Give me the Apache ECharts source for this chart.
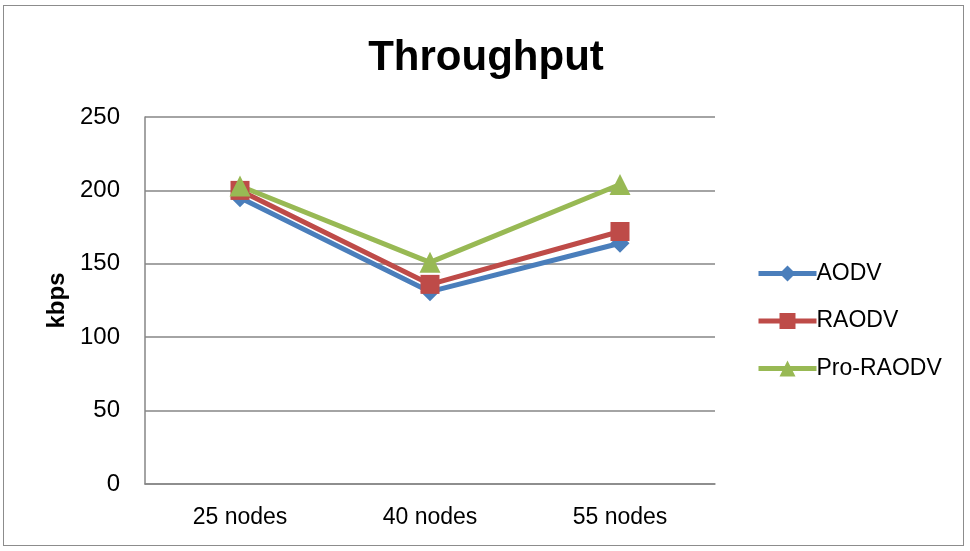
<!DOCTYPE html>
<html>
<head>
<meta charset="utf-8">
<script src="https://cdn.jsdelivr.net/npm/echarts@6/dist/echarts.min.js"></script>
<style>
html,body{margin:0;padding:0;background:#fff;}
#frame{position:absolute;left:3px;top:5px;width:961px;height:541px;border:1px solid #8c8c8c;box-sizing:border-box;}
#c{position:absolute;left:0;top:0;width:970px;height:551px;}
</style>
</head>
<body>
<div id="frame"></div>
<div id="c"></div>
<script>
var categories = ['25 nodes', '40 nodes', '55 nodes'];
var aodv = [195, 131, 164];
var raodv = [200, 136, 172];
var proRaodv = [203, 151, 204];
var yTicks = [0, 50, 100, 150, 200, 250];

var chart = echarts.init(document.getElementById('c'));
var font = 'Liberation Sans, Arial, sans-serif';
function ser(name, data, color, symbol, size) {
  return {
    name: name, type: 'line', data: data, symbol: symbol, symbolSize: size,
    lineStyle: {width: 5, color: color}, itemStyle: {color: color},
    emphasis: {disabled: true}, animation: false
  };
}
chart.setOption({
  animation: false,
  title: {
    text: 'Throughput', left: 481, top: 32, textAlign: 'center',
    textStyle: {fontFamily: font, fontSize: 42, fontWeight: 'bold', color: '#000'}
  },
  grid: {left: 145, right: 255, top: 117, bottom: 67},
  legend: {
    orient: 'vertical', left: 751, top: 257, itemGap: 24.5,
    itemWidth: 58, itemHeight: 20,
    lineStyle: {width: 5},
    textStyle: {fontFamily: font, fontSize: 23, color: '#000', padding: [0,0,0,-5]},
    data: ['AODV', 'RAODV', 'Pro-RAODV']
  },
  xAxis: {
    type: 'category', data: categories, boundaryGap: true,
    axisLine: {lineStyle: {color: '#868686', width: 1.5}},
    axisTick: {show: false},
    axisLabel: {fontFamily: font, fontSize: 23, color: '#000', margin: 22}
  },
  yAxis: {
    type: 'value', min: yTicks[0], max: yTicks[yTicks.length-1], interval: 50,
    name: 'kbps', nameLocation: 'middle', nameGap: 74, nameRotate: 90,
    nameTextStyle: {fontFamily: font, fontSize: 24, fontWeight: 'bold', color: '#000'},
    axisLine: {show: true, lineStyle: {color: '#868686', width: 1.5}},
    axisTick: {show: false},
    splitLine: {lineStyle: {color: '#868686', width: 1.5}},
    axisLabel: {fontFamily: font, fontSize: 24, color: '#000', margin: 25}
  },
  series: [
    ser('AODV', aodv, '#4A7EBB', 'diamond', 19),
    ser('RAODV', raodv, '#BE4B48', 'rect', 19),
    ser('Pro-RAODV', proRaodv, '#98B954', 'triangle', 21)
  ]
});
</script>
</body>
</html>
